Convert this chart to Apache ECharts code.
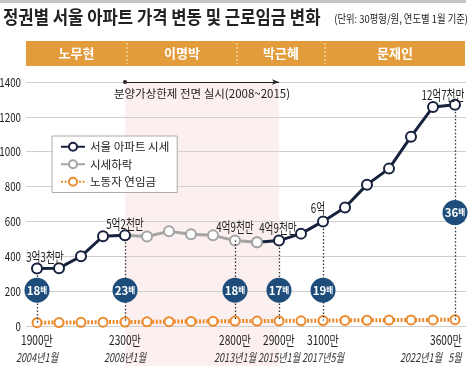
<!DOCTYPE html>
<html><head><meta charset="utf-8">
<script src="https://cdn.jsdelivr.net/npm/echarts@6/dist/echarts.min.js"></script>
<style>html,body{margin:0;padding:0;background:#fff}#c{width:471px;height:366px}</style>
</head><body><div id="c"></div>
<script>
// ---- data ----
const categories = ['2004.1','2005.1','2006.1','2007.1','2008.1','2009.1','2010.1','2011.1','2012.1','2013.1','2014.1','2015.1','2016.1','2017.5','2018.1','2019.1','2020.1','2021.1','2022.1','2022.5'];
const priceRise = [330,332,400,515,520,null,null,null,null,null,480,490,530,600,680,811,903,1086,1257,1270];
const priceFall = [null,null,null,null,520,514,543,526,520,490,480,null,null,null,null,null,null,null,null,null];
const wage = [19,20,21,22,23,24,25,26,27,28,28,29,30,31,32,33,34,35,35,36];
const priceLabels = ['3억3천만','','','','5억2천만','','','','','4억9천만','','4억9천만','','6억','','','','','','12억7천만'];
const wageLabels = ['1900만','','','','2300만','','','','','2800만','','2900만','','3100만','','','','','','3600만'];
const yearLabels = ['2004년1월','','','','2008년1월','','','','','2013년1월','','2015년1월','','2017년5월','','','','','2022년1월','5월'];
const ratioLabels = ['18','','','','23','','','','','18','','17','','19','','','','','','36'];
const ratioPos = [205,null,null,null,205,null,null,null,null,205,null,205,null,205,null,null,null,null,null,651];
const presidents = ['노무현','이명박','박근혜','문재인'];
const termBreaks = [4,9,13];
const capPeriod = [4,11];
const capText = '분양가상한제 전면 실시(2008~2015)';
const yTicks = {min:0,max:1400,step:200};

const NAVY='#17223e', GREY='#a4a4a4', ORANGE='#ec8a2e', BADGE='#1e4d7b', PINK='#fcefef';
const KR="'Noto Sans CJK KR',sans-serif";

const badgeData = [];
ratioLabels.forEach((r,i)=>{ if(r) badgeData.push({value:[i,ratioPos[i]],name:r}); });
const guideData = [];
ratioLabels.forEach((r,i)=>{ if(r){ const p = priceRise[i]!=null?priceRise[i]:priceFall[i];
  guideData.push([{coord:[i,p]},{coord:[i,wage[i]]}]); }});
const riseData = priceRise.map((v,i)=> (i===10 ? {value:v,itemStyle:{borderColor:GREY}} : v));

const chart = echarts.init(document.getElementById('c'),null,{renderer:'canvas'});
const option = {
  animation:false,
  backgroundColor:'#fff',
  grid:{left:26,right:5,top:82,bottom:40,containLabel:false,outerBoundsMode:'none'},
  legend:{
    data:['서울 아파트 시세','시세하락','노동자 연임금'],
    orient:'vertical',left:52,top:136,
    backgroundColor:'#fff',borderColor:'#aaa',borderWidth:1,padding:[5,8,5,8],
    itemWidth:24,itemHeight:10,itemGap:6,
    textStyle:{fontFamily:KR,fontSize:11.5,color:'#222'}
  },
  xAxis:{type:'category',data:categories,boundaryGap:true,
    axisLine:{show:false},axisTick:{show:false},splitLine:{show:false},axisLabel:{show:false}},
  yAxis:{type:'value',min:yTicks.min,max:yTicks.max,interval:yTicks.step,
    axisLine:{show:false},axisTick:{show:false},axisLabel:{show:false},
    splitLine:{lineStyle:{color:'#cfcfcf',width:1}}},
  series:[
    {name:'노동자 연임금',type:'line',data:wage,z:2,
      symbol:'circle',symbolSize:9,showAllSymbol:true,
      lineStyle:{color:ORANGE,width:4,type:[2,1.6]},
      itemStyle:{color:'#fff',borderColor:ORANGE,borderWidth:2},
      markArea:{silent:true,itemStyle:{color:PINK},z:-1,
        data:[[{xAxis:capPeriod[0],yAxis:yTicks.max},{xAxis:capPeriod[1],yAxis:yTicks.min}]]},
      markLine:{silent:true,symbol:['circle','arrow'],symbolSize:[4,7],
        lineStyle:{color:'#222',width:1.2,type:'solid'},
        label:{show:true,position:'insideMiddleBottom',distance:6,formatter:capText,
          fontFamily:KR,fontSize:11.5,color:'#222'},
        data:[[{coord:[capPeriod[0],yTicks.max]},{coord:[capPeriod[1],yTicks.max]}]]}
    },
    {name:'guides',type:'line',data:[],z:3,
      markLine:{silent:true,symbol:['none','none'],
        lineStyle:{color:'#333',width:1.3,type:[1.5,2]},label:{show:false},data:guideData}},
    {name:'시세하락',type:'line',data:priceFall,z:4,connectNulls:false,
      symbol:'circle',symbolSize:10,showAllSymbol:true,
      lineStyle:{color:GREY,width:3},
      itemStyle:{color:'#fff',borderColor:GREY,borderWidth:2}},
    {name:'서울 아파트 시세',type:'line',data:riseData,z:5,connectNulls:false,
      symbol:'circle',symbolSize:10,showAllSymbol:true,
      lineStyle:{color:NAVY,width:3},
      itemStyle:{color:'#fff',borderColor:NAVY,borderWidth:2}},
    {name:'badges',type:'scatter',data:badgeData,z:6,symbol:'circle',symbolSize:25,
      itemStyle:{color:BADGE,opacity:1},
      label:{show:true,position:'inside',formatter:p=>'{n|'+p.name+'}{b|배}',
        rich:{n:{fontFamily:KR,fontSize:11.5,fontWeight:'bold',color:'#fff'},
              b:{fontFamily:KR,fontSize:7.5,fontWeight:'bold',color:'#fff'}}}}
  ]
};
chart.setOption(option);

// ---- decorations placed through the chart's own scales ----
const px = i => chart.convertToPixel({xAxisIndex:0}, i);
const py = v => chart.convertToPixel({yAxisIndex:0}, v);
const pt = (i,v) => chart.convertToPixel({gridIndex:0}, [i, v]);
const axisY = py(0);
const gridL = 26, gridR = 466;
const barTop = 41, barH = 25;
const edges = [gridL].concat(termBreaks.map(b=>px(b)+2)).concat([gridR-1]);
function ctext(txt,x,y,font,sx,fill,align){
  return {type:'text',x:x,y:y,scaleX:sx,z:20,
    style:{text:txt,font:font,fill:fill||'#222',align:align||'center',verticalAlign:'middle'}};
}
const graphic = [];
graphic.push({type:'rect',z:-10,shape:{x:0,y:0,width:466,height:3},style:{fill:'#c4c4c4'}});
// pink band continues below the plot down to the date row
graphic.push({type:'rect',z:-10,shape:{x:px(capPeriod[0]),y:axisY,width:px(capPeriod[1])-px(capPeriod[0]),height:366-axisY},style:{fill:PINK}});
graphic.push({type:'text',x:3,y:17,scaleX:0.9,z:20,style:{text:'정권별 서울 아파트 가격 변동 및 근로임금 변화',font:"bold 18.5px 'Noto Sans CJK KR',sans-serif",fill:'#222',verticalAlign:'middle'}});
graphic.push({type:'text',x:468,y:19,scaleX:0.85,z:20,style:{text:'(단위: 30평형/원, 연도별 1월 기준)',font:"11px 'Noto Sans CJK KR',sans-serif",fill:'#222',align:'right',verticalAlign:'middle'}});
graphic.push({type:'rect',shape:{x:gridL,y:barTop,width:gridR-1-gridL,height:barH},style:{fill:'#e39c3c'}});
presidents.forEach((p,k)=>{
  graphic.push({type:'text',x:(edges[k]+edges[k+1])/2,y:barTop+barH/2,z:20,
    style:{text:p,font:"bold 13px 'Noto Sans CJK KR',sans-serif",fill:'#fff',align:'center',verticalAlign:'middle'}});
});
termBreaks.forEach(b=>{
  const x = px(b)+2;
  graphic.push({type:'line',shape:{x1:x,y1:barTop+2,x2:x,y2:barTop+barH-2},style:{stroke:'#f7dcae',lineWidth:1.2,lineDash:[2,2]}});
});
// y tick labels (condensed)
for(let v=yTicks.min; v<=yTicks.max; v+=yTicks.step){
  graphic.push(ctext(String(v),21,py(v),"12.5px 'Noto Sans CJK KR',sans-serif",0.78,'#222','right'));
}
// value labels above points
const labelOffsets = {0:[8,12],4:[0,11],9:[0,14],11:[-1,13],13:[-5,14],19:[-12,10]};
priceLabels.forEach((t,i)=>{
  if(!t) return;
  const v = priceRise[i]!=null?priceRise[i]:priceFall[i];
  const p = pt(i,v); const o = labelOffsets[i]||[0,12];
  graphic.push(ctext(t,p[0]+o[0],p[1]-o[1],"13.5px 'Noto Sans CJK KR',sans-serif",0.72));
});
// wage row & date row under the axis
const wageShift = {19:-9}, yearShift = {18:-12};
wageLabels.forEach((t,i)=>{
  if(!t) return;
  graphic.push(ctext(t,px(i)+(wageShift[i]||0),axisY+14,"13px 'Noto Sans CJK KR',sans-serif",0.78));
});
yearLabels.forEach((t,i)=>{
  if(!t) return;
  graphic.push(ctext(t,px(i)+(yearShift[i]||0),axisY+31,"italic 12px 'Noto Sans CJK KR',sans-serif",0.76,'#333'));
});
chart.setOption({graphic:graphic});
</script></body></html>
